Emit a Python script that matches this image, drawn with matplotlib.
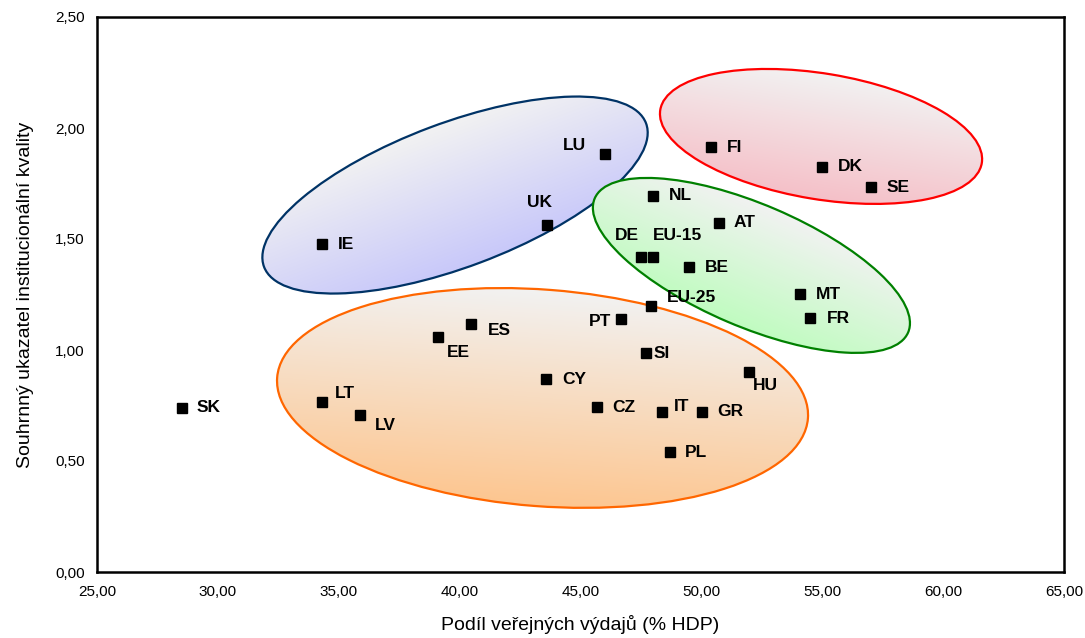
import matplotlib
matplotlib.use("Agg")
import matplotlib.pyplot as plt
import numpy as np
from matplotlib.patches import Ellipse
from matplotlib.transforms import Affine2D
from matplotlib.colors import to_rgb

plt.rcParams['font.family'] = ['Liberation Sans', 'DejaVu Sans']

# data: public spending share (% GDP) vs. institutional quality index
countries = ['SK', 'LT', 'LV', 'IE', 'EE', 'ES', 'UK', 'CY', 'LU', 'CZ', 'PT', 'SI',
             'DE', 'EU-15', 'NL', 'EU-25', 'IT', 'PL', 'GR', 'BE', 'AT', 'FI', 'HU',
             'DK', 'MT', 'FR', 'SE']
spending = [28.50, 34.29, 35.88, 34.29, 39.09, 40.47, 43.60, 43.57, 46.01, 45.69, 46.68, 47.69,
            47.50, 48.01, 48.01, 47.90, 48.39, 48.70, 50.01, 49.50, 50.71, 50.39, 51.98,
            55.00, 54.10, 54.49, 57.01]
quality = [0.740, 0.767, 0.707, 1.476, 1.060, 1.116, 1.563, 0.868, 1.883, 0.742, 1.138, 0.985,
           1.417, 1.417, 1.694, 1.198, 0.719, 0.539, 0.721, 1.372, 1.574, 1.913, 0.900,
           1.826, 1.252, 1.143, 1.733]

xticks = [25, 30, 35, 40, 45, 50, 55, 60, 65]
yticks = [0, 0.5, 1.0, 1.5, 2.0, 2.5]

# label placement (offset in pixels, y up) and alignment
label_pos = {
    'SK': (15, 0, 'left'), 'LT': (13, 8, 'left'), 'LV': (15, -10, 'left'),
    'IE': (16, 0, 'left'), 'EE': (9, -16, 'left'), 'ES': (17, -6, 'left'),
    'UK': (-7, 23, 'center'), 'CY': (16, 0, 'left'), 'LU': (-19, 8, 'right'),
    'CZ': (15, 0, 'left'), 'PT': (-10, -2, 'right'), 'SI': (8, 0, 'left'),
    'DE': (-14, 22, 'center'), 'EU-15': (0, 22, 'left'), 'NL': (16, 0, 'left'),
    'EU-25': (16, 9, 'left'), 'IT': (11, 6, 'left'), 'PL': (15, 0, 'left'),
    'GR': (16, 0, 'left'), 'BE': (16, 0, 'left'), 'AT': (15, 0, 'left'),
    'FI': (16, 0, 'left'), 'HU': (4, -13, 'left'), 'DK': (16, 0, 'left'),
    'MT': (15, 0, 'left'), 'FR': (17, 0, 'left'), 'SE': (16, 0, 'left'),
}

# group ellipses: center x, center y, semi-major, semi-minor (x units), angle, edge, gradient end
groups = [
    (39.81, 1.698, 8.44, 2.98, 20.6, '#003366', '#c8c8fa'),   # anglosaxon
    (52.07, 1.381, 7.05, 2.53, -23.15, '#008000', '#c0fcc0'), # continental
    (43.43, 0.784, 11.01, 4.48, -4.4, '#ff6600', '#fdc690'),  # new members / south
    (54.95, 1.962, 6.74, 2.60, -9.4, '#ff0000', '#f5c0c8'),   # nordic
]
top_grey = '#f2f2f2'

fig = plt.figure(figsize=(10.85, 6.38), dpi=100)
ax = fig.add_axes([97/1085, 66/638, 967/1085, 555/638])

# aspect factor so ellipses can be drawn in an isotropic frame
k = (555/2.5)/(967/40)
iso = Affine2D().scale(1, 1/k) + ax.transData

for z, (cx, cy, a, b, ang, ec, c2) in enumerate(groups):
    cv = cy*k
    th = np.radians(ang)
    e = Ellipse((cx, cv), 2*a, 2*b, angle=ang, transform=iso,
                facecolor='none', edgecolor=ec, lw=1.6, zorder=2+2*z)
    ax.add_patch(e)
    r = a + 0.5
    u = np.linspace(cx - r, cx + r, 300)
    v = np.linspace(cv - r, cv + r, 300)
    U, V = np.meshgrid(u, v)
    t = ((U - cx)*(-np.sin(th)) + (V - cv)*np.cos(th))/b
    f = np.clip((1 - t)/2, 0, 1)[..., None]
    img = np.array(to_rgb(top_grey))*(1 - f) + np.array(to_rgb(c2))*f
    im = ax.imshow(img, extent=(cx - r, cx + r, (cv - r)/k, (cv + r)/k), origin='lower',
                   aspect='auto', zorder=1+2*z, interpolation='bilinear')
    im.set_clip_path(e)

ax.plot(spending, quality, 's', color='black', markersize=6.5, zorder=20)
for c, x, y in zip(countries, spending, quality):
    dx, dy, ha = label_pos[c]
    ax.annotate(c, (x, y), xytext=(dx, dy), textcoords='offset pixels', ha=ha, va='center',
                fontsize=12.5, fontweight='bold', zorder=21)

ax.set_xlim(25, 65)
ax.set_ylim(0, 2.5)
ax.set_xticks(xticks)
ax.set_yticks(yticks)
ax.set_xticklabels([f"{v:.2f}".replace('.', ',') for v in xticks])
ax.set_yticklabels([f"{v:.2f}".replace('.', ',') for v in yticks])
ax.tick_params(length=0, labelsize=11, pad=9)
for s in ax.spines.values():
    s.set_linewidth(1.8)
    s.set_zorder(30)
ax.set_xlabel("Podíl veřejných výdajů (% HDP)", fontsize=14, labelpad=12)
ax.set_ylabel("Souhrnný ukazatel institucionální kvality", fontsize=14, labelpad=15)

fig.savefig("out.png", dpi=100)
